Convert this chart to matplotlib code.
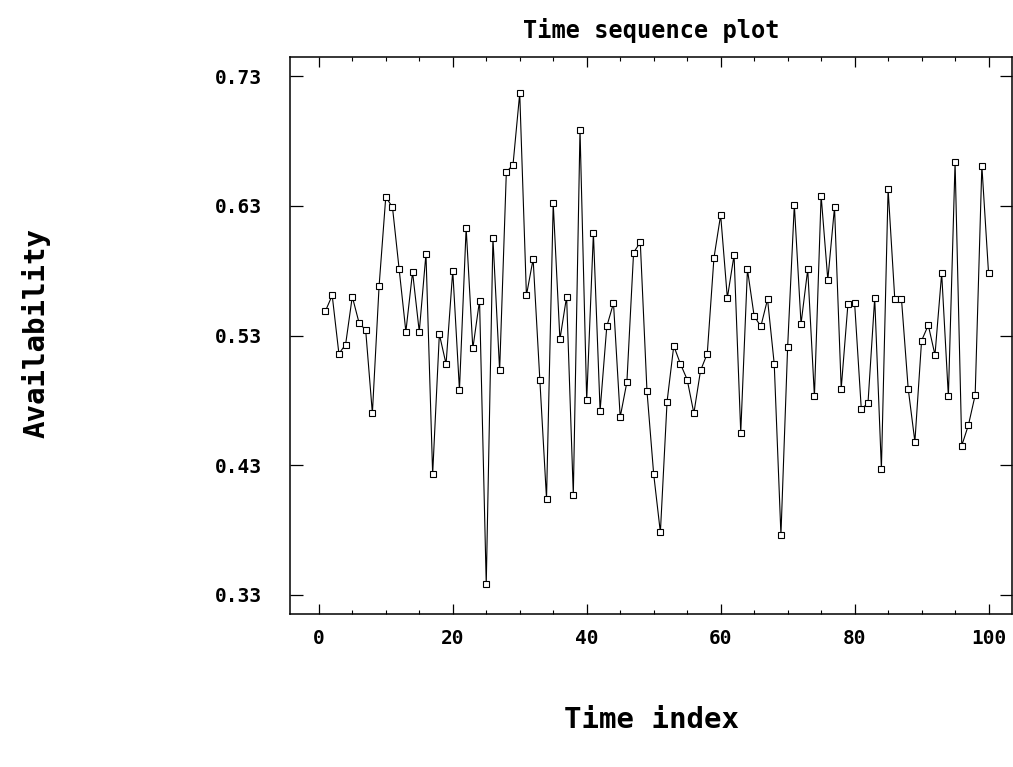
import numpy as np
from matplotlib import pyplot as plt
from matplotlib.ticker import MultipleLocator

# availability per time index
time_index = list(range(1, 101))
availability = [
    0.549, 0.561, 0.516, 0.523, 0.560, 0.540, 0.534, 0.470, 0.568, 0.637,
    0.629, 0.581, 0.533, 0.579, 0.533, 0.593, 0.423, 0.531, 0.508, 0.580,
    0.488, 0.613, 0.520, 0.557, 0.338, 0.605, 0.503, 0.656, 0.662, 0.717,
    0.561, 0.589, 0.496, 0.404, 0.632, 0.527, 0.560, 0.407, 0.689, 0.480,
    0.609, 0.472, 0.537, 0.555, 0.467, 0.494, 0.594, 0.602, 0.487, 0.423,
    0.378, 0.479, 0.522, 0.508, 0.496, 0.470, 0.503, 0.516, 0.590, 0.623,
    0.559, 0.592, 0.455, 0.581, 0.545, 0.537, 0.558, 0.508, 0.376, 0.521,
    0.631, 0.539, 0.581, 0.483, 0.638, 0.573, 0.629, 0.489, 0.554, 0.555,
    0.473, 0.478, 0.559, 0.427, 0.643, 0.558, 0.558, 0.489, 0.448, 0.526,
    0.538, 0.515, 0.578, 0.483, 0.664, 0.445, 0.461, 0.484, 0.661, 0.578,
]
y_ticks = [0.33, 0.43, 0.53, 0.63, 0.73]
x_ticks = [0, 20, 40, 60, 80, 100]

mono = 'DejaVu Sans Mono'

fig = plt.figure(figsize=(10.13, 7.67), dpi=100)
ax = fig.add_axes([290 / 1013, 1 - 614 / 767, 722 / 1013, 557 / 767])

ax.plot(time_index, availability, color='black', linewidth=0.8,
        marker='s', markersize=5, markerfacecolor='white',
        markeredgecolor='black', markeredgewidth=0.8)

ax.set_xlim(-4.3, 103.5)
ax.set_ylim(0.315, 0.745)

ax.set_xticks(x_ticks)
ax.xaxis.set_minor_locator(MultipleLocator(5))
ax.set_yticks(y_ticks)
ax.set_yticklabels(['%.2f' % v for v in y_ticks])

ax.tick_params(axis='x', which='major', direction='in', length=7,
               width=0.9, top=True, pad=11)
ax.tick_params(axis='x', which='minor', direction='in', length=3,
               width=0.8, top=True)
ax.tick_params(axis='y', which='major', direction='in', length=9,
               width=0.9, right=True, pad=20)
for lab in ax.get_xticklabels() + ax.get_yticklabels():
    lab.set_family(mono)
    lab.set_fontweight('bold')
    lab.set_fontsize(14)

for sp in ax.spines.values():
    sp.set_linewidth(1.1)

ax.set_title('Time sequence plot', family=mono, fontweight='bold',
             fontsize=17, pad=14)
ax.set_xlabel('Time index', family=mono, fontweight='bold', fontsize=21)
ax.xaxis.set_label_coords(0.5, -0.165)
ax.set_ylabel('Availability', family=mono, fontweight='bold', fontsize=21)
ax.yaxis.set_label_coords(-0.332, 0.504)

fig.savefig('out.png', dpi=100)
